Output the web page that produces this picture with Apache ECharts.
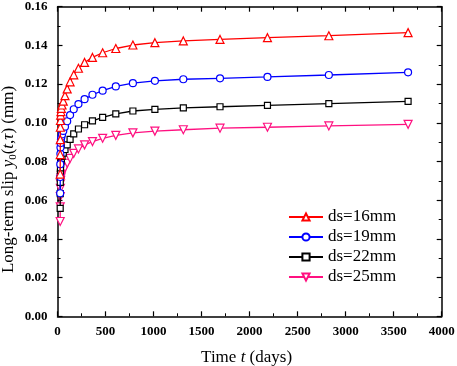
<!DOCTYPE html>
<html><head><meta charset="utf-8">
<script src="https://cdn.jsdelivr.net/npm/echarts@6/dist/echarts.min.js"></script>
<style>html,body{margin:0;padding:0;background:#fff}#c{width:457px;height:366px}</style>
</head><body><div id="c"></div>
<script>
const times = [28, 28.5, 29, 30, 31, 33, 36, 40, 47, 60, 78, 101, 131, 169, 218, 282, 364, 470, 607, 785, 1014, 1310, 1692, 2186, 2825, 3650];
const ds16 = [0.0735, 0.0836, 0.0913, 0.0977, 0.1012, 0.1040, 0.1058, 0.1075, 0.1092, 0.1112, 0.1140, 0.1175, 0.1212, 0.1248, 0.1282, 0.1312, 0.1338, 0.1362, 0.1384, 0.1402, 0.1414, 0.1423, 0.1431, 0.1440, 0.1450, 0.1466];
const ds19 = [0.0636, 0.0720, 0.0786, 0.0840, 0.0872, 0.0895, 0.0912, 0.0926, 0.0940, 0.0958, 0.0980, 0.1008, 0.1040, 0.1070, 0.1097, 0.1122, 0.1145, 0.1166, 0.1188, 0.1205, 0.1217, 0.1225, 0.1230, 0.1237, 0.1247, 0.1261];
const ds22 = [0.0558, 0.0634, 0.0692, 0.0740, 0.0767, 0.0788, 0.0802, 0.0815, 0.0827, 0.0843, 0.0862, 0.0886, 0.0914, 0.0943, 0.0968, 0.0990, 0.1010, 0.1028, 0.1046, 0.1061, 0.1069, 0.1077, 0.1083, 0.1090, 0.1099, 0.1111];
const ds25 = [0.0490, 0.0566, 0.0618, 0.0661, 0.0685, 0.0703, 0.0716, 0.0727, 0.0738, 0.0752, 0.0768, 0.0791, 0.0816, 0.0842, 0.0865, 0.0886, 0.0903, 0.0920, 0.0935, 0.0948, 0.0957, 0.0964, 0.0972, 0.0977, 0.0984, 0.0992];
const seriesNames = ['ds=16mm', 'ds=19mm', 'ds=22mm', 'ds=25mm'];
const xTicks = {min: 0, max: 4000, interval: 500};
const yTicks = {min: 0, max: 0.16, interval: 0.02};

const colors = ['#ff0000', '#0000ff', '#000000', '#ff1080'];
const symbols = ['triangle', 'circle', 'rect', 'triangle'];
const rot = [0, 0, 0, 180];
const sizes = [8, 7, 6, 8];
const datasets = [ds16, ds19, ds22, ds25];

const chart = echarts.init(document.getElementById('c'));
const axisLine = {show: true, onZero: false, lineStyle: {color: '#000', width: 1.5}};
const serif = 'Liberation Serif, Times New Roman, serif';
function xa(pos, show) {
  return {type: 'value', position: pos, min: xTicks.min, max: xTicks.max, interval: xTicks.interval,
    axisLine, splitLine: {show: false}, nameMoveOverlap: false,
    axisTick: {show: true, inside: true, length: 5, lineStyle: {color: '#000', width: 1.2}},
    minorTick: {show: true, splitNumber: 2, length: 3, lineStyle: {color: '#000', width: 1}},
    axisLabel: {show: show, margin: 9, color: '#000', fontFamily: serif, fontWeight: 'bold', fontSize: 13,
      formatter: v => String(v)}
  };
}
function ya(pos, show) {
  return {type: 'value', position: pos, min: yTicks.min, max: yTicks.max, interval: yTicks.interval,
    axisLine, splitLine: {show: false}, nameMoveOverlap: false,
    axisTick: {show: true, inside: true, length: 5, lineStyle: {color: '#000', width: 1.2}},
    minorTick: {show: true, splitNumber: 2, length: 3, lineStyle: {color: '#000', width: 1}},
    axisLabel: {show: show, margin: 10, color: '#000', fontFamily: serif, fontWeight: 'bold', fontSize: 13,
      formatter: v => v.toFixed(2)}
  };
}
const xMain = xa('bottom', true);
xMain.name = '{n|Time }{i|t}{n| (days)}';
xMain.nameLocation = 'middle';
xMain.nameGap = 33;
xMain.nameTextStyle = {padding: [0, 6, 0, 0], rich: {n: {fontFamily: serif, fontSize: 17, color: '#000'}, i: {fontFamily: serif, fontSize: 17, fontStyle: 'italic', color: '#000'}}};
const yMain = ya('left', true);
yMain.name = '{n|Long-term slip }{i|y}{s|0}{n|(}{i|t}{n|,}{i|τ}{n|) (mm)}';
yMain.nameLocation = 'middle';
yMain.nameGap = 39;
yMain.nameTextStyle = {padding: [0, 36, 0, 0], rich: {
  n: {fontFamily: serif, fontSize: 17, color: '#000'},
  i: {fontFamily: serif, fontSize: 17, fontStyle: 'italic', color: '#000'},
  s: {fontFamily: serif, fontSize: 11, color: '#000', padding: [8, 0, 0, 0]}
}};

chart.setOption({
  animation: false,
  backgroundColor: '#fff',
  grid: {left: 57.5, right: 15.3, top: 6.7, bottom: 49.7, containLabel: false, outerBoundsMode: 'none'},
  xAxis: [xMain, xa('top', false)],
  yAxis: [yMain, ya('right', false)],
  legend: {
    orient: 'vertical', left: 288, top: 208.5, padding: 0, itemWidth: 34, itemHeight: 9, itemGap: 3,
    textStyle: {fontFamily: serif, fontSize: 17, color: '#000', padding: [0, 0, 0, 0]},
    data: seriesNames
  },
  series: seriesNames.map((n, k) => ({
    name: n, type: 'line', xAxisIndex: 0, yAxisIndex: 0,
    data: times.map((t, i) => [t, datasets[k][i]]),
    symbol: symbols[k], symbolSize: sizes[k], symbolRotate: rot[k], showAllSymbol: true,
    lineStyle: {color: colors[k], width: 1.3},
    itemStyle: {color: '#fff', borderColor: colors[k], borderWidth: 1.2},
    z: 10 - k
  }))
});
</script></body></html>
